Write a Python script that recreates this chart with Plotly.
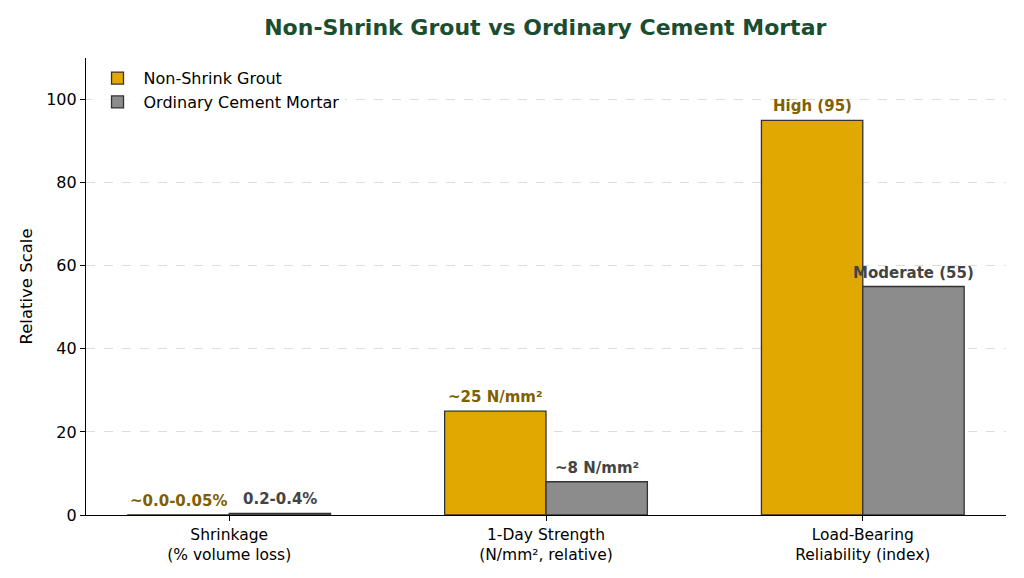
import plotly.graph_objects as go

# Data
categories = ["Shrinkage<br>(% volume loss)", "1-Day Strength<br>(N/mm², relative)", "Load-Bearing<br>Reliability (index)"]
grout_values = [0.05, 25, 95]
mortar_values = [0.4, 8, 55]
grout_labels = ["~0.0-0.05%", "~25 N/mm²", "High (95)"]
mortar_labels = ["0.2-0.4%", "~8 N/mm²", "Moderate (55)"]

grout_color = "#E0A800"
mortar_color = "#8C8C8C"
edge_color = "#333333"
font_family = "DejaVu Sans"

fig = go.Figure()
fig.add_trace(go.Bar(x=categories, y=grout_values, name="Non-Shrink Grout",
                     marker=dict(color=grout_color, line=dict(color=edge_color, width=1.3))))
fig.add_trace(go.Bar(x=categories, y=mortar_values, name="Ordinary Cement Mortar",
                     marker=dict(color=mortar_color, line=dict(color=edge_color, width=1.3))))

# value labels above the bars
for i in range(len(categories)):
    fig.add_annotation(x=i - 0.16, y=grout_values[i], text="<b>" + grout_labels[i] + "</b>",
                       showarrow=False, yanchor="bottom", yshift=3,
                       font=dict(color="#7F6000", size=15, family=font_family))
    fig.add_annotation(x=i + 0.16, y=mortar_values[i], text="<b>" + mortar_labels[i] + "</b>",
                       showarrow=False, yanchor="bottom", yshift=3,
                       font=dict(color="#444444", size=15, family=font_family))

fig.update_layout(
    width=1008, height=562,
    barmode="group", bargap=0.36, bargroupgap=0,
    plot_bgcolor="white", paper_bgcolor="white",
    font=dict(family=font_family, size=15, color="black"),
    margin=dict(l=78, r=10, t=50, b=55, autoexpand=False),
    title=dict(text="<b>Non-Shrink Grout vs Ordinary Cement Mortar</b>", x=0.533, xanchor="center",
               y=0.966, yanchor="middle", font=dict(size=22, color="#1B4D32", family=font_family)),
    legend=dict(x=0.006, y=0.993, xanchor="left", yanchor="top", bgcolor="rgba(255,255,255,0.8)",
                font=dict(size=16), tracegroupgap=2, itemwidth=42),
    showlegend=True,
)
fig.update_xaxes(range=[-0.452, 2.452], showline=True, linecolor="black", linewidth=1.2,
                 ticks="outside", ticklen=5, tickcolor="black", showgrid=False,
                 tickfont=dict(size=15.5))
fig.update_yaxes(range=[0, 110], tickvals=[0, 20, 40, 60, 80, 100], showline=True, linecolor="black",
                 linewidth=1.2, ticks="outside", ticklen=5, tickcolor="black",
                 showgrid=True, gridcolor="#DDDDDD", griddash="dash", gridwidth=1,
                 zeroline=False, title=dict(text="Relative Scale", font=dict(size=16.5), standoff=9),
                 tickfont=dict(size=16))

fig.write_html("out.html")
